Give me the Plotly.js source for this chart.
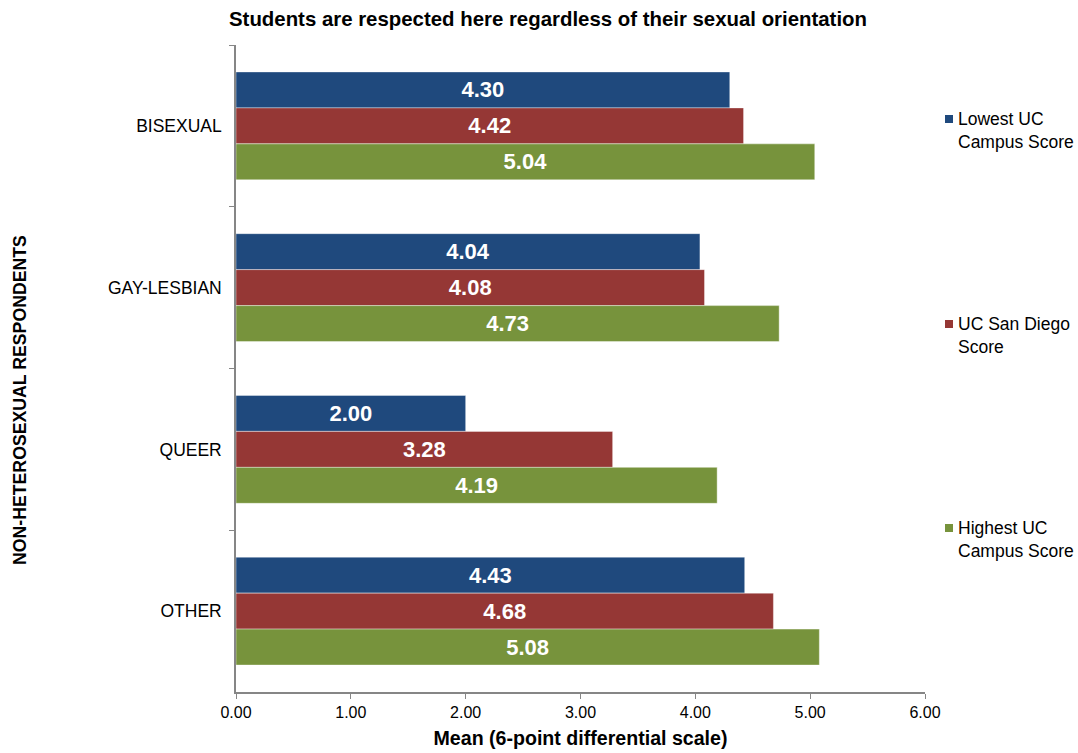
<!DOCTYPE html>
<html>
<head>
<meta charset="utf-8">
<script src="https://cdn.plot.ly/plotly-3.0.1.min.js"></script>
<style>
  html, body { margin: 0; padding: 0; background: #ffffff; }
  #chart { width: 1078px; height: 753px; }
</style>
</head>
<body>
<div id="chart"></div>
<script>
// Respondent groups (top to bottom)
const categories = ["BISEXUAL", "GAY-LESBIAN", "QUEER", "OTHER"];

// Mean scores per series
const lowestUC   = [4.30, 4.04, 2.00, 4.43];
const ucSanDiego = [4.42, 4.08, 3.28, 4.68];
const highestUC  = [5.04, 4.73, 4.19, 5.08];

const seriesNames  = ["Lowest UC<br>Campus Score", "UC San Diego<br>Score", "Highest UC<br>Campus Score"];
const seriesColors = ["#1F497D", "#953735", "#77933C"];
const seriesValues = [lowestUC, ucSanDiego, highestUC];

const xTickVals = [0, 1, 2, 3, 4, 5, 6];
const xTickText = ["0.00", "1.00", "2.00", "3.00", "4.00", "5.00", "6.00"];

const FONT = "Arial";

// plot area in page pixels
const W = 1078, H = 753;
const L = 236, R = 925, T = 45, B = 692;
const px2x = p => (p - L) / (R - L);
const py2y = p => (B - p) / (B - T);

const traces = seriesValues.map((vals, i) => ({
  type: "bar",
  orientation: "h",
  name: seriesNames[i],
  x: vals,
  y: categories,
  marker: { color: seriesColors[i], line: { color: "rgba(255,255,255,0.5)", width: 0.8 } },
  texttemplate: "%{x:.2f}",
  textposition: "inside",
  insidetextanchor: "middle",
  textangle: 0,
  textfont: { family: FONT, size: 22, color: "#ffffff", weight: "bold" },
  hoverinfo: "x+y+name",
  showlegend: false
}));

// legend entries: square marker + wrapped label
const legendTop = [107, 312, 516];
const shapes = [];
const annotations = [];
legendTop.forEach((top, i) => {
  shapes.push({
    type: "rect", xref: "paper", yref: "paper",
    x0: px2x(945), x1: px2x(953), y0: py2y(top + 16), y1: py2y(top + 8),
    fillcolor: seriesColors[i], line: { width: 0 }
  });
  annotations.push({
    xref: "paper", yref: "paper",
    x: px2x(956), y: py2y(top),
    xanchor: "left", yanchor: "top", align: "left",
    text: seriesNames[i], showarrow: false,
    font: { family: FONT, size: 17.5, color: "#000000" }
  });
});

// vertical axis title
annotations.push({
  xref: "paper", yref: "paper",
  x: px2x(20), y: py2y(400),
  xanchor: "center", yanchor: "middle",
  textangle: -90, showarrow: false,
  text: "<b>NON-HETEROSEXUAL RESPONDENTS</b>",
  font: { family: FONT, size: 17.7, color: "#000000" }
});

const layout = {
  width: W, height: H,
  margin: { l: L, r: W - R, t: T, b: H - B, pad: 0 },
  paper_bgcolor: "#ffffff",
  plot_bgcolor: "#ffffff",
  barmode: "group",
  bargap: 0.333,
  bargroupgap: 0,
  title: {
    text: "<b>Students are respected here regardless of their sexual orientation</b>",
    font: { family: FONT, size: 20.4, color: "#000000" },
    x: 548 / W, xref: "container", xanchor: "center",
    y: 1 - 19 / H, yref: "container", yanchor: "middle"
  },
  xaxis: {
    range: [0, 6],
    tickvals: xTickVals,
    ticktext: xTickText,
    ticks: "outside", ticklen: 5, tickcolor: "#868686",
    showline: true, linecolor: "#868686", linewidth: 1.5,
    showgrid: false, zeroline: false,
    tickfont: { family: FONT, size: 16, color: "#000000" },
    title: {
      text: "<b>Mean (6-point differential scale)</b>",
      font: { family: FONT, size: 19.6, color: "#000000" },
      standoff: 11
    }
  },
  yaxis: {
    type: "category",
    categoryorder: "array",
    categoryarray: categories,
    autorange: "reversed",
    ticks: "outside", ticklen: 5, tickcolor: "#868686",
    tickson: "boundaries",
    showline: true, linecolor: "#868686", linewidth: 1.5,
    showgrid: false, zeroline: false,
    ticklabelstandoff: 9,
    tickfont: { family: FONT, size: 17.5, color: "#000000" }
  },
  shapes: shapes,
  annotations: annotations,
  showlegend: false
};

Plotly.newPlot("chart", traces, layout, { displayModeBar: false });
</script>
</body>
</html>
